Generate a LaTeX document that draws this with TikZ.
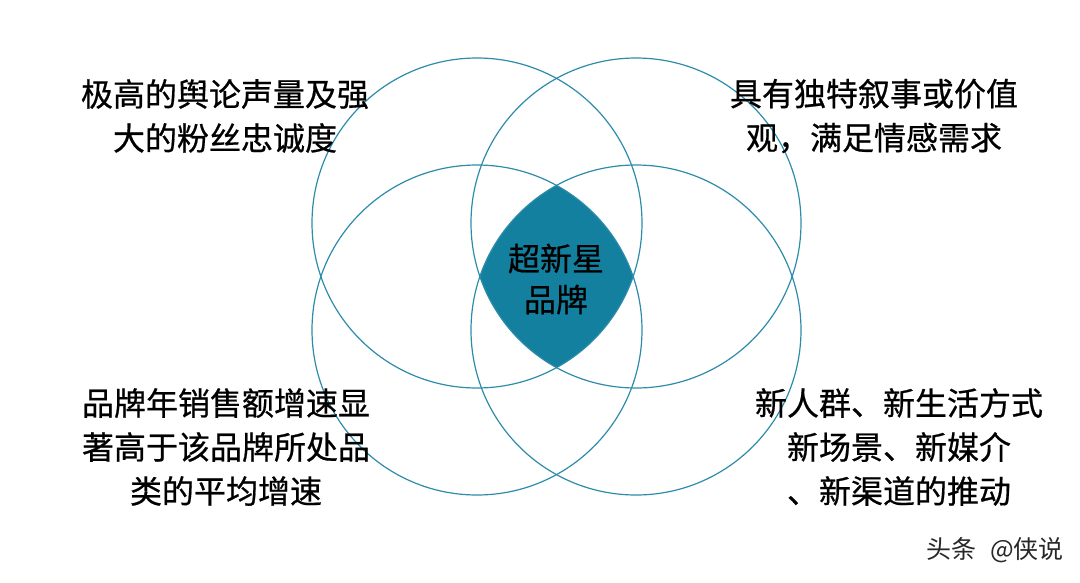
\documentclass[tikz,border=0pt]{standalone}
\usepackage{fontspec}
\newfontfamily\cjk[FakeBold=0.6]{Noto Sans CJK SC}
\newfontfamily\cjkwm{Noto Sans CJK SC}
\definecolor{ringc}{RGB}{45,140,170}
\definecolor{corec}{RGB}{19,128,160}
\definecolor{wmc}{RGB}{40,40,40}
\tikzset{
  ring/.style={draw=ringc, line width=1.2pt},
  lbl/.style={font=\cjk\fontsize{32}{44}\selectfont, align=center, inner sep=0pt, text=black},
  wm/.style={font=\cjkwm\fontsize{25}{28}\selectfont, inner sep=0pt, text=wmc}
}
\begin{document}
\begin{tikzpicture}[x=1pt,y=-1pt]
\useasboundingbox[fill=white] (0,0) rectangle (1080,582);
\coordinate (TL) at (477,223);
\coordinate (TR) at (636,223);
\coordinate (BL) at (477,330);
\coordinate (BR) at (636,330);
\begin{scope}
  \clip (TL) circle[radius=165pt];
  \clip (TR) circle[radius=165pt];
  \clip (BL) circle[radius=165pt];
  \fill[corec] (BR) circle[radius=165pt];
\end{scope}
\draw[ring] (TL) circle[radius=165pt];
\draw[ring] (TR) circle[radius=165pt];
\draw[ring] (BL) circle[radius=165pt];
\draw[ring] (BR) circle[radius=165pt];
\node[lbl, font=\cjk\fontsize{32}{41}\selectfont] (core) at (556,279) {超新星\\品牌};
\node[lbl] (tl) at (225,116) {极高的舆论声量及强\\大的粉丝忠诚度};
\node[lbl] (tr) at (874,116) {具有独特叙事或价值\\观，满足情感需求};
\node[lbl] (bl) at (226,447) {品牌年销售额增速显\\著高于该品牌所处品\\类的平均增速};
\node[lbl] (br) at (899,447) {新人群、新生活方式\\新场景、新媒介\\、新渠道的推动};
\node[wm, anchor=east] (wmk) at (1064,550) {头条\hspace{14pt}@侠说};
\end{tikzpicture}
\end{document}
